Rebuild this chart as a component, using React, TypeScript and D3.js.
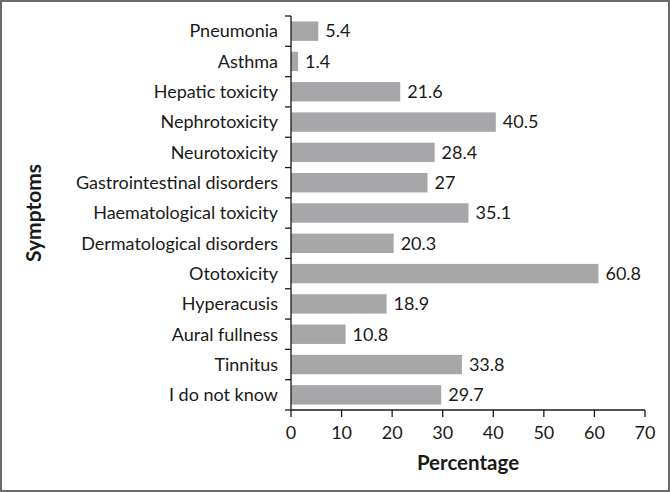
// @ts-nocheck
import React, { useEffect, useRef } from "react";
import * as d3 from "d3";

const categories = [
  "Pneumonia",
  "Asthma",
  "Hepatic toxicity",
  "Nephrotoxicity",
  "Neurotoxicity",
  "Gastrointestinal disorders",
  "Haematological toxicity",
  "Dermatological disorders",
  "Ototoxicity",
  "Hyperacusis",
  "Aural fullness",
  "Tinnitus",
  "I do not know",
];
const values = [5.4, 1.4, 21.6, 40.5, 28.4, 27, 35.1, 20.3, 60.8, 18.9, 10.8, 33.8, 29.7];
const xTicks = [0, 10, 20, 30, 40, 50, 60, 70];

function App() {
  const ref = useRef(null);

  useEffect(() => {
    const W = 670,
      H = 492;
    const margin = { top: 16, right: 25, bottom: 82, left: 291 };
    const font = "Lato, 'Open Sans', sans-serif";
    const ink = "#1a1a1a";

    const svg = d3.select(ref.current);
    svg.selectAll("*").remove();

    // outer frame
    svg
      .append("rect")
      .attr("x", 1)
      .attr("y", 1)
      .attr("width", W - 2)
      .attr("height", H - 2)
      .attr("fill", "#fff")
      .attr("stroke", "#6b6b6b")
      .attr("stroke-width", 2);

    const x = d3.scaleLinear().domain([0, 70]).range([margin.left, W - margin.right]);
    const y = d3
      .scaleBand()
      .domain(categories)
      .range([margin.top, H - margin.bottom])
      .paddingInner(0.36)
      .paddingOuter(0.18);

    const data = categories.map((c, i) => ({ c, v: values[i] }));

    // bars
    svg
      .selectAll("rect.bar")
      .data(data)
      .enter()
      .append("rect")
      .attr("class", "bar")
      .attr("x", x(0))
      .attr("y", (d) => y(d.c))
      .attr("width", (d) => x(d.v) - x(0))
      .attr("height", y.bandwidth())
      .attr("fill", "#a7a7a9");

    // value labels
    svg
      .selectAll("text.val")
      .data(data)
      .enter()
      .append("text")
      .attr("class", "val")
      .attr("x", (d) => x(d.v) + 7)
      .attr("y", (d) => y(d.c) + y.bandwidth() / 2)
      .attr("dy", "0.35em")
      .style("font-family", font)
      .style("font-size", "18px")
      .attr("fill", ink)
      .text((d) => d.v);

    // y axis line + ticks at band boundaries
    const g = svg.append("g").attr("stroke", ink).attr("stroke-width", 1.3);
    const y0 = margin.top,
      y1 = H - margin.bottom;
    g.append("line").attr("x1", x(0)).attr("x2", x(0)).attr("y1", y0).attr("y2", y1);
    const step = (y1 - y0) / categories.length;
    d3.range(categories.length + 1).forEach((i) => {
      g.append("line")
        .attr("x1", x(0) - 6)
        .attr("x2", x(0))
        .attr("y1", y0 + i * step)
        .attr("y2", y0 + i * step);
    });

    // category labels
    svg
      .selectAll("text.cat")
      .data(categories)
      .enter()
      .append("text")
      .attr("class", "cat")
      .attr("x", x(0) - 13)
      .attr("y", (d) => y(d) + y.bandwidth() / 2)
      .attr("dy", "0.35em")
      .attr("text-anchor", "end")
      .style("font-family", font)
      .style("font-size", "18px")
      .attr("fill", ink)
      .text((d) => d);

    // x axis
    g.append("line").attr("x1", x(0)).attr("x2", x(70)).attr("y1", y1).attr("y2", y1);
    xTicks.forEach((t) => {
      g.append("line").attr("x1", x(t)).attr("x2", x(t)).attr("y1", y1).attr("y2", y1 + 7);
    });
    svg
      .selectAll("text.xt")
      .data(xTicks)
      .enter()
      .append("text")
      .attr("class", "xt")
      .attr("x", (d) => x(d))
      .attr("y", y1 + 29)
      .attr("text-anchor", "middle")
      .style("font-family", font)
      .style("font-size", "18px")
      .attr("fill", ink)
      .text((d) => d);

    // axis titles
    svg
      .append("text")
      .attr("x", (x(0) + x(70)) / 2)
      .attr("y", y1 + 60)
      .attr("text-anchor", "middle")
      .style("font-family", font)
      .style("font-size", "20.5px")
      .style("font-weight", 700)
      .attr("fill", ink)
      .text("Percentage");

    svg
      .append("text")
      .attr("transform", "translate(34," + (y0 + y1) / 2 + ") rotate(-90)")
      .attr("text-anchor", "middle")
      .attr("dy", "0.35em")
      .style("font-family", font)
      .style("font-size", "21px")
      .style("font-weight", 700)
      .attr("fill", ink)
      .text("Symptoms");
  }, []);

  return (
    <svg
      ref={ref}
      width={670}
      height={492}
      style={{ position: "absolute", left: 0, top: 0, display: "block" }}
    />
  );
}

export default App;
